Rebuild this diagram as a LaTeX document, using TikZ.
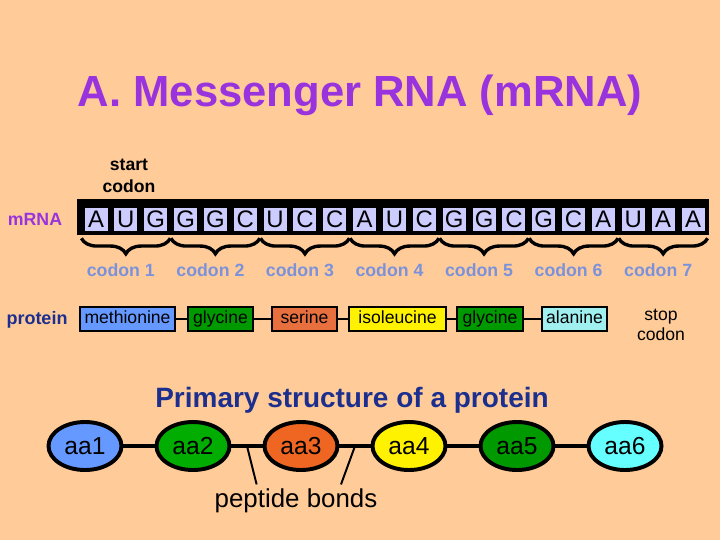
\documentclass[tikz,border=0pt]{standalone}
\usepackage{fontspec}
\setmainfont{Liberation Sans}
\usetikzlibrary{positioning,shapes.geometric,decorations.pathreplacing,calc}

\newlength\pxl
\setlength\pxl{0.025cm}

\definecolor{peach}{HTML}{FFCC99}
\definecolor{titlepurple}{HTML}{9933DD}
\definecolor{codonblue}{HTML}{7B92DB}
\definecolor{navy}{HTML}{1C2F8E}
\definecolor{lav}{HTML}{CCCCFF}
\definecolor{metblue}{HTML}{6699FF}
\definecolor{glygreen}{HTML}{009900}
\definecolor{serorange}{HTML}{E8703F}
\definecolor{aa3orange}{HTML}{EE6622}
\definecolor{alacyan}{HTML}{A0F0F0}
\definecolor{aa6cyan}{HTML}{66FFFF}

\tikzset{
  base/.style={inner sep=0pt,text=black},
  letterbox/.style={base,fill=lav,minimum width=23\pxl,minimum height=23\pxl,
    text height=12pt,text depth=0pt,font=\fontsize{17}{17}\selectfont},
  bracket/.style={decorate,decoration={brace,mirror,amplitude=11pt},line width=2.4pt},
  codonlbl/.style={base,text=codonblue,font=\bfseries\fontsize{12.6}{12.6}\selectfont},
  acid/.style={base,draw,line width=1.6pt,minimum height=24\pxl,
    text height=9pt,text depth=2.5pt,font=\fontsize{12.5}{12.5}\selectfont},
  aa/.style={ellipse,draw,line width=2.8pt,minimum width=73\pxl,minimum height=48\pxl,
    inner sep=0pt,font=\fontsize{17.5}{17.5}\selectfont},
  bond/.style={line width=2.8pt},
}

\begin{document}
\begin{tikzpicture}[x=0.025cm,y=-0.025cm]
\fill[peach] (0,0) rectangle (720,540);
\useasboundingbox (0,0) rectangle (720,540);

% title
\node[base,text=titlepurple,font=\bfseries\fontsize{31}{31}\selectfont] (title) at (360,95) {A. Messenger RNA (mRNA)};

% mRNA strip
\node[base,text=titlepurple,font=\bfseries\fontsize{12.6}{12.6}\selectfont] (mrna) at (35,219) {mRNA};
\node[fill=black,minimum width=632\pxl,minimum height=36\pxl,inner sep=0pt] (strip) at (393,217) {};
\foreach \b [count=\i] in {A,U,G,G,G,C,U,C,C,A,U,C,G,G,C,G,C,A,U,A,A}
  \node[letterbox] (b\i) at ({96+29.85*(\i-1)},219.5) {\b};
\node[base,align=center,font=\bfseries\fontsize{12.5}{15.5}\selectfont] (start) at (129,176) {start\\codon};

% codons
\foreach \k in {1,...,7}{
  \pgfmathtruncatemacro\first{3*\k-2}
  \pgfmathtruncatemacro\last{3*\k}
  \draw[bracket] ([xshift=-2pt,yshift=-5pt]b\first.south west) -- ([xshift=2pt,yshift=-5pt]b\last.south east);
  \node[codonlbl] (c\k) at ({91+29.85*(3*\k-2)},270) {codon \k};
}

% protein
\node[base,text=navy,font=\bfseries\fontsize{12.8}{12.8}\selectfont] (protein) at (37,320) {protein};
\node[acid,fill=metblue,minimum width=95\pxl] (met) at (127.5,319) {methionine};
\node[acid,fill=glygreen,minimum width=65\pxl] (gly) at (220.5,319) {glycine};
\node[acid,fill=serorange,minimum width=65\pxl] (ser) at (304.5,319) {serine};
\node[acid,fill=yellow,minimum width=97\pxl] (ile) at (397.5,319) {isoleucine};
\node[acid,fill=glygreen,minimum width=66\pxl] (glyb) at (490,319) {glycine};
\node[acid,fill=alacyan,minimum width=65\pxl] (ala) at (574.5,319) {alanine};
\node[base,align=center,font=\fontsize{12.5}{14.5}\selectfont] (stop) at (661,325) {stop\\codon};
\foreach \a/\b in {met/gly,gly/ser,ser/ile,ile/glyb,glyb/ala}
  \draw[line width=1.3pt] (\a) -- (\b);

% primary structure
\node[base,text=navy,font=\bfseries\fontsize{19.9}{19.9}\selectfont] (primary) at (352,400) {Primary structure of a protein};
\node[aa,fill=metblue] (aa1) at (85,446) {aa1};
\node[aa,fill=glygreen!80!green] (aa2) at (193,446) {aa2};
\node[aa,fill=aa3orange] (aa3) at (301,446) {aa3};
\node[aa,fill=yellow] (aa4) at (409,446) {aa4};
\node[aa,fill=glygreen] (aa5) at (517,446) {aa5};
\node[aa,fill=aa6cyan] (aa6) at (625,446) {aa6};
\foreach \a/\b in {aa1/aa2,aa2/aa3,aa3/aa4,aa4/aa5,aa5/aa6}
  \draw[bond] (\a) -- (\b);

\node[base,font=\fontsize{18.4}{18.4}\selectfont] (pb) at (296,501) {peptide bonds};
\coordinate (bond23) at ($(aa2.east)!0.5!(aa3.west)$);
\coordinate (bond34) at ($(aa3.east)!0.5!(aa4.west)$);
\draw[line width=1.4pt] ([xshift=-28pt,yshift=3pt]pb.north) -- (bond23);
\draw[line width=1.4pt] ([xshift=32pt,yshift=3pt]pb.north) -- (bond34);
\end{tikzpicture}
\end{document}
